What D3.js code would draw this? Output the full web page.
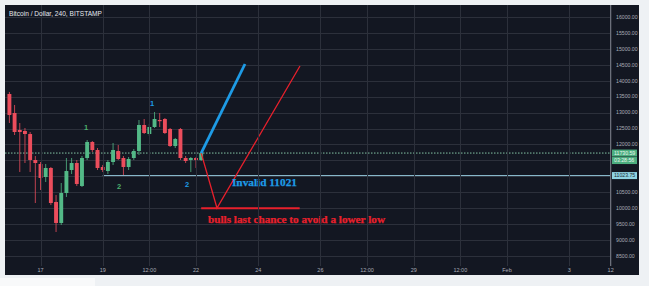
<!DOCTYPE html>
<html><head><meta charset="utf-8">
<script src="https://cdn.jsdelivr.net/npm/d3@7"></script>
<style>html,body{margin:0;padding:0;background:#eef1f4;} svg{display:block}</style>
</head><body>
<svg id="c" width="649" height="286"></svg>
<script>
const title = "Bitcoin / Dollar, 240, BITSTAMP";
const firstCandle = "2018-01-16T00:00:00";
const opens  = [13584,12987,12454,12423,12328,11513,11387,10979,11262,10195,9536,10477,11199,11418,10697,11575,12078,11826,11293,11167,11450,11795,11575,11293,11575,11795,12611,12328,12548,12768,12799,12486,11952,12486,11575,11513,11575,11513];
const highs  = [13647,13239,12674,12517,12391,11638,11450,11387,11293,10414,10791,11575,11575,11513,11638,12140,12109,11889,11356,11513,12046,11983,11638,11607,11858,12768,12799,12642,13019,12987,12831,12517,12203,12517,11638,11607,11607,11764];
const lows   = [12674,12297,11136,11418,11136,10163,10571,10822,10101,9253,9473,10352,11073,10697,10665,11513,11764,11199,11136,11073,11356,11513,11042,11199,11513,11670,12328,12266,12517,12548,12328,11921,11889,11513,11418,11136,11262,11481];
const closes = [12925,12391,12391,12328,11513,11418,10948,11262,10163,9536,10477,11167,11418,10760,11575,12078,11826,11262,11199,11450,11826,11544,11293,11544,11795,12611,12360,12548,12799,12736,12360,11952,12172,11575,11481,11575,11513,11730.59];

const yTicks = [8500,9000,9500,10000,10500,11000,11500,12000,12500,13000,13500,14000,14500,15000,15500,16000];
const yTickLabelsHidden = [11000,11500];
const xTickDates  = ["2018-01-17T00:00:00","2018-01-19T00:00:00","2018-01-20T12:00:00","2018-01-22T00:00:00","2018-01-24T00:00:00","2018-01-26T00:00:00","2018-01-27T12:00:00","2018-01-29T00:00:00","2018-01-30T12:00:00","2018-02-01T00:00:00","2018-02-03T00:00:00","2018-02-04T08:00:00"];
const xTickLabels = ["17","19","12:00","22","24","26","12:00","29","12:00","Feb","3","12"];

const lastPrice = 11730.59;
const countdown = "03:28:56";
const invalidLevel = 11023.75;
const invalidStart = "2018-01-19T00:00:00";

const blueArrow = [["2018-01-22T04:00:00",11730],["2018-01-23T13:48:00",14525]];
const redPath   = [["2018-01-22T04:00:00",11730],["2018-01-22T16:12:00",10006],["2018-01-25T08:15:00",14462]];
const redLevel  = [["2018-01-22T04:00:00",10000],["2018-01-25T08:00:00",10000]];

const waveLabels = [
  {text:"1", time:"2018-01-18T11:06:00", price:12548, color:"#4caf6e"},
  {text:"2", time:"2018-01-19T12:34:00", price:10697, color:"#4caf6e"},
  {text:"1", time:"2018-01-20T14:02:00", price:13301, color:"#1e9be6"},
  {text:"2", time:"2018-01-21T17:04:00", price:10760, color:"#1e9be6"}
];
const notes = [
  {text:"Invalid 11021", time:"2018-01-23T03:45:00", price:10822, color:"#1e9be6", size:11, len:65},
  {text:"bulls last chance to avoid a lower low", time:"2018-01-22T09:16:00", price:9646, color:"#e8202c", size:10.5, len:177}
];

const svg = d3.select("#c");
const P = {l:5, t:5, r:610, b:265, outerR:639, outerB:275};
const parse = s => new Date(s);

const x = d3.scaleTime().domain([parse("2018-01-15T20:36:00"), parse("2018-02-04T07:30:00")]).range([P.l, P.r]);
const y = d3.scaleLinear().domain([8500,16000]).range([256,17]);

svg.append("rect").attr("x",P.l).attr("y",P.t).attr("width",P.outerR-P.l).attr("height",P.outerB-P.t).attr("fill","#131722");
svg.append("rect").attr("x",0).attr("y",278).attr("width",95).attr("height",8).attr("fill","#f8f9fa");

svg.append("clipPath").attr("id","pc").append("rect").attr("x",P.l).attr("y",P.t).attr("width",P.r-P.l).attr("height",P.b-P.t);
const plot = svg.append("g").attr("clip-path","url(#pc)");

// grid
plot.selectAll(".hg").data(yTicks).enter().append("line")
  .attr("x1",P.l).attr("x2",P.r).attr("y1",d=>Math.round(y(d))+0.5).attr("y2",d=>Math.round(y(d))+0.5)
  .attr("stroke","#2c303b").attr("stroke-width",1);
svg.selectAll(".vg").data(xTickDates).enter().append("line")
  .attr("x1",d=>Math.round(x(parse(d)))+0.5).attr("x2",d=>Math.round(x(parse(d)))+0.5)
  .attr("y1",P.t).attr("y2",P.b+1).attr("stroke","#2c303b").attr("stroke-width",1);

// x labels
svg.selectAll(".xl").data(xTickDates).enter().append("text")
  .attr("x",d=>x(parse(d))).attr("y",272).attr("text-anchor","middle")
  .attr("font-family","Liberation Sans, Arial, sans-serif").attr("font-size",5.5).attr("fill","#a9adb8")
  .text((d,i)=>xTickLabels[i]);

// axis line
svg.append("line").attr("x1",P.r+0.5).attr("x2",P.r+0.5).attr("y1",P.t).attr("y2",P.b+1).attr("stroke","#6c707b");

// y labels
svg.selectAll(".yl").data(yTicks.filter(d=>!yTickLabelsHidden.includes(d))).enter().append("text")
  .attr("x",616).attr("y",d=>y(d)).attr("dy","0.35em")
  .attr("font-family","Liberation Sans, Arial, sans-serif").attr("font-size",5.2).attr("fill","#a9adb8")
  .text(d=>d3.format(".2f")(d));

// current price dotted
plot.append("line").attr("x1",P.l).attr("x2",P.r).attr("y1",y(lastPrice)).attr("y2",y(lastPrice))
  .attr("stroke","#8fd8b2").attr("stroke-width",0.9).attr("stroke-dasharray","1.5,1.5");
// invalid level line
plot.append("line").attr("x1",x(parse(invalidStart))).attr("x2",P.r).attr("y1",y(invalidLevel)).attr("y2",y(invalidLevel))
  .attr("stroke","#8fc3d6").attr("stroke-width",1);

// candles
const t0 = parse(firstCandle);
const idx = d3.range(opens.length);
const cx = i => x(d3.timeHour.offset(t0, 4*i));
const green = "#53b987", red = "#eb4d5c";
const cg = plot.append("g");
cg.selectAll(".w").data(idx).enter().append("line")
  .attr("x1",i=>cx(i)).attr("x2",i=>cx(i)).attr("y1",i=>y(highs[i])).attr("y2",i=>y(lows[i]))
  .attr("stroke",i=>closes[i]>=opens[i]?green:red).attr("stroke-width",0.8);
const bw = 3.9;
cg.selectAll(".b").data(idx).enter().append("rect")
  .attr("x",i=>cx(i)-bw/2).attr("width",bw)
  .attr("y",i=>y(Math.max(opens[i],closes[i])))
  .attr("height",i=>Math.max(1.2,Math.abs(y(opens[i])-y(closes[i]))))
  .attr("fill",i=>closes[i]>=opens[i]?green:red);

// drawings
const line = d3.line().x(d=>x(parse(d[0]))).y(d=>y(d[1]));
plot.append("path").attr("d",line(redLevel)).attr("fill","none").attr("stroke","#e8202c").attr("stroke-width",2);
plot.append("path").attr("d",line(redPath)).attr("fill","none").attr("stroke","#e8202c").attr("stroke-width",1.3);
plot.append("path").attr("d",line(blueArrow)).attr("fill","none").attr("stroke","#1e9be6").attr("stroke-width",2.8);

// wave labels
plot.selectAll(".wl").data(waveLabels).enter().append("text")
  .attr("x",d=>x(parse(d.time))).attr("y",d=>y(d.price)).attr("dy","0.35em").attr("text-anchor","middle")
  .attr("font-family","Liberation Sans, Arial, sans-serif").attr("font-weight","bold").attr("font-size",7.5)
  .attr("fill",d=>d.color).text(d=>d.text);

// notes
plot.selectAll(".nt").data(notes).enter().append("text")
  .attr("x",d=>x(parse(d.time))).attr("y",d=>y(d.price)).attr("dy","0.35em")
  .attr("font-family","Liberation Serif, Times New Roman, serif").attr("font-weight","bold").attr("font-size",d=>d.size)
  .attr("textLength",d=>d.len).attr("lengthAdjust","spacingAndGlyphs")
  .attr("stroke",d=>d.color).attr("stroke-width",0.25)
  .attr("fill",d=>d.color).text(d=>d.text);

// title
svg.append("text").attr("x",9).attr("y",16).attr("font-family","Liberation Sans, Arial, sans-serif")
  .attr("font-size",6.6).attr("fill","#e6e8ee").attr("textLength",93).attr("lengthAdjust","spacingAndGlyphs").text(title);

// price boxes
function box(price, dy, h, fill, txt, txtColor){
  const yc = y(price) + dy;
  svg.append("rect").attr("x",612).attr("y",yc-h/2).attr("width",25).attr("height",h).attr("fill",fill);
  svg.append("text").attr("x",614).attr("y",yc).attr("dy","0.35em").attr("font-family","Liberation Sans, Arial, sans-serif")
    .attr("font-size",5.2).attr("fill",txtColor).text(txt);
}
box(lastPrice, 0, 7, "#4cae7f", d3.format(".2f")(lastPrice), "#e9f7ef");
box(lastPrice, 7.5, 7, "#4cae7f", countdown, "#e9f7ef");
box(invalidLevel, 0, 7, "#8fd3e3", d3.format(".2f")(invalidLevel), "#1a2a33");
</script>
</body></html>
